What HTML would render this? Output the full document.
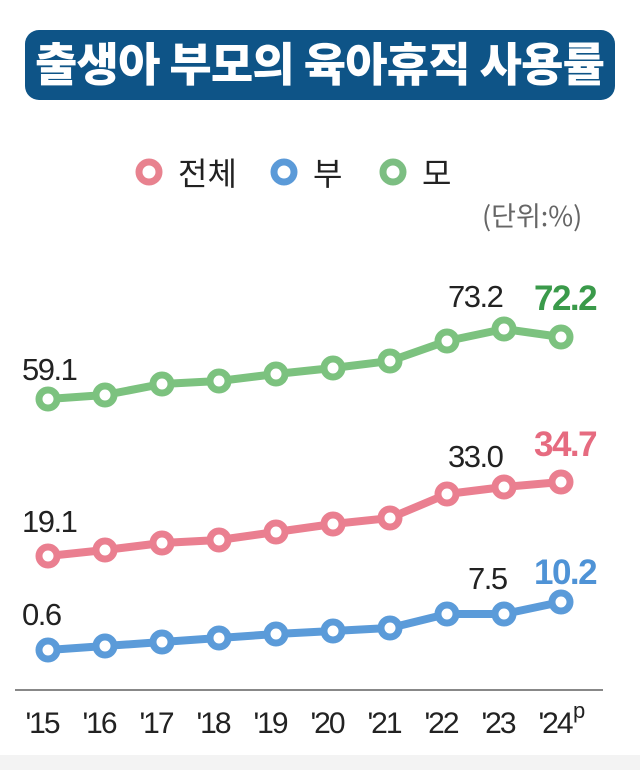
<!DOCTYPE html>
<html><head><meta charset="utf-8"><style>
body{margin:0;width:640px;height:770px;background:#fff;overflow:hidden;font-family:"Liberation Sans","Noto Sans CJK KR",sans-serif}
</style></head><body>
<svg width="640" height="770" xmlns="http://www.w3.org/2000/svg" style="position:absolute;left:0;top:0">
<rect x="0" y="755" width="640" height="15" fill="#f3f3f3"/>
<rect x="25" y="30" width="590" height="70" rx="14" fill="#0e5487"/>
<text x="320" y="81" text-anchor="middle" font-family="Noto Sans CJK KR, sans-serif" font-weight="900" font-size="46" fill="#fff" textLength="570">출생아 부모의 육아휴직 사용률</text>
<g font-family="Noto Sans CJK KR, sans-serif" font-size="32" fill="#222">
<circle cx="149" cy="172" r="10" fill="none" stroke="#e8828f" stroke-width="7"/>
<text x="178" y="185">전체</text>
<circle cx="284" cy="172" r="10" fill="none" stroke="#5b9ad8" stroke-width="7"/>
<text x="313" y="185">부</text>
<circle cx="393" cy="172" r="10" fill="none" stroke="#7cbe82" stroke-width="7"/>
<text x="422" y="185">모</text>
</g>
<text x="482" y="226" font-family="Noto Sans CJK KR, sans-serif" font-size="27" fill="#666">(단위:%)</text>
<line x1="15" y1="690" x2="603" y2="690" stroke="#888" stroke-width="2"/>
<g fill="none" stroke-width="8" stroke-linejoin="round">
<polyline stroke="#7cc27f" points="48,399 105,395 162,384 219,381 276,374 333,368 390,361 447,341 504,329 561,337"/>
<polyline stroke="#ea7f90" points="48,556 105,550 162,543 219,540 276,532 333,524 390,518 447,494 504,487 561,482"/>
<polyline stroke="#5b9bd9" points="48,650 105,646 162,642 219,638 276,634 333,631 390,628 447,614 504,614 561,602"/>
</g>
<g fill="#fff" stroke-width="7">
<g stroke="#7cc27f"><circle cx="48" cy="399" r="9"/><circle cx="105" cy="395" r="9"/><circle cx="162" cy="384" r="9"/><circle cx="219" cy="381" r="9"/><circle cx="276" cy="374" r="9"/><circle cx="333" cy="368" r="9"/><circle cx="390" cy="361" r="9"/><circle cx="447" cy="341" r="9"/><circle cx="504" cy="329" r="9"/><circle cx="561" cy="337" r="9"/></g>
<g stroke="#ea7f90"><circle cx="48" cy="556" r="9"/><circle cx="105" cy="550" r="9"/><circle cx="162" cy="543" r="9"/><circle cx="219" cy="540" r="9"/><circle cx="276" cy="532" r="9"/><circle cx="333" cy="524" r="9"/><circle cx="390" cy="518" r="9"/><circle cx="447" cy="494" r="9"/><circle cx="504" cy="487" r="9"/><circle cx="561" cy="482" r="9"/></g>
<g stroke="#5b9bd9"><circle cx="48" cy="650" r="9"/><circle cx="105" cy="646" r="9"/><circle cx="162" cy="642" r="9"/><circle cx="219" cy="638" r="9"/><circle cx="276" cy="634" r="9"/><circle cx="333" cy="631" r="9"/><circle cx="390" cy="628" r="9"/><circle cx="447" cy="614" r="9"/><circle cx="504" cy="614" r="9"/><circle cx="561" cy="602" r="9"/></g>
</g>
<g font-size="31" fill="#222" letter-spacing="-1.5">
<text x="22" y="380">59.1</text>
<text x="448" y="307">73.2</text>
<text x="22" y="532">19.1</text>
<text x="448" y="467">33.0</text>
<text x="22" y="625">0.6</text>
<text x="468" y="589">7.5</text>
</g>
<g font-size="35" font-weight="bold" letter-spacing="-1.5">
<text x="534" y="310" fill="#3a9a4a">72.2</text>
<text x="534" y="456" fill="#e66b80">34.7</text>
<text x="534" y="584" fill="#4f93d6">10.2</text>
</g>
<g font-size="30" fill="#222" text-anchor="middle" letter-spacing="-2">
<text x="42" y="733">'15</text><text x="99" y="733">'16</text><text x="156" y="733">'17</text><text x="213" y="733">'18</text><text x="270" y="733">'19</text><text x="327" y="733">'20</text><text x="384" y="733">'21</text><text x="441" y="733">'22</text><text x="498" y="733">'23</text><text x="555" y="733">'24</text>
</g>
<text x="573" y="718" font-size="22" fill="#222">p</text>
</svg>
</body></html>
